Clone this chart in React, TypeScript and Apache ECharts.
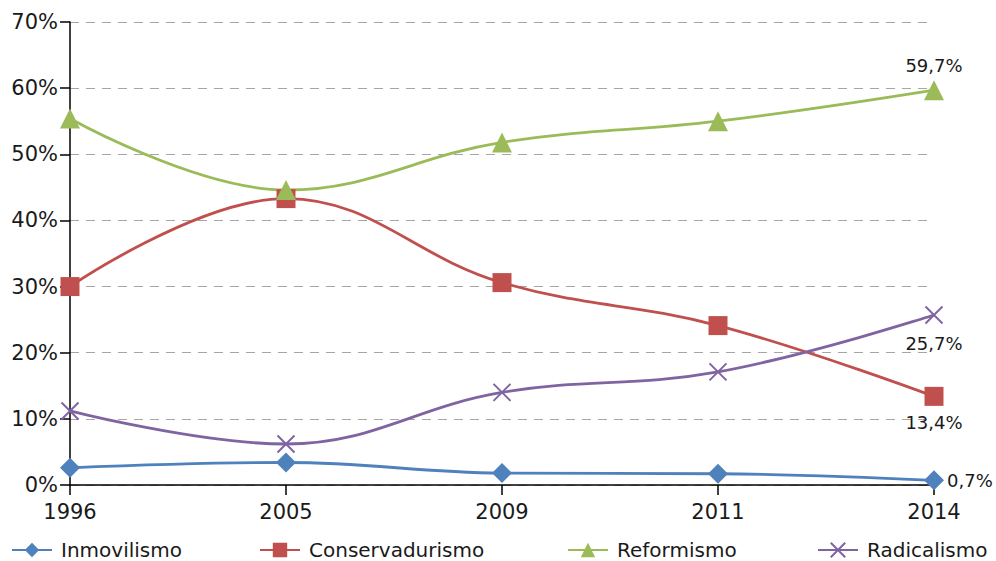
import React, { useEffect, useRef } from "react";
import * as echarts from "echarts";

const years = ["1996", "2005", "2009", "2011", "2014"];
const inmovilismo = [2.6, 3.4, 1.8, 1.7, 0.7];
const conservadurismo = [30.0, 43.3, 30.6, 24.1, 13.4];
const reformismo = [55.4, 44.6, 51.8, 55.0, 59.7];
const radicalismo = [11.2, 6.2, 14.0, 17.1, 25.7];
const yTicks = [0, 10, 20, 30, 40, 50, 60, 70];

const FONT = "DejaVu Sans";
const TXT = "#1a1a1a";

const fmt = (v: number) => v.toFixed(1).replace(".", ",") + "%";

function lastLabel(position: string, distance: number) {
  return {
    show: true,
    position,
    distance,
    fontFamily: FONT,
    fontSize: 18,
    color: TXT,
    formatter: (p: any) => (p.dataIndex === years.length - 1 ? fmt(p.value) : ""),
  };
}

export default function App() {
  const ref = useRef<HTMLDivElement>(null);
  useEffect(() => {
    const chart = echarts.init(ref.current!, null, { renderer: "svg" });
    const mk = (name: string, data: number[], color: string, symbol: string, size: number, label: any, extra: any = {}) => ({
      name,
      type: "line",
      data,
      smooth: 0.4,
      symbol,
      symbolSize: size,
      showAllSymbol: true,
      lineStyle: { color, width: 2.8 },
      itemStyle: { color, ...extra },
      label,
      z: 3,
    });
    const legendBase = {
      top: 538,
      padding: 0,
      itemWidth: 40,
      itemHeight: 18,
      itemGap: 0,
      textStyle: { fontFamily: FONT, fontSize: 20, lineHeight: 24, color: TXT, padding: [0, 0, 0, 4] },
    };
    chart.setOption({
      animation: false,
      grid: { left: 70, right: 62, top: 22, bottom: 76 },
      legend: [
        { ...legendBase, left: 11, data: ["Inmovilismo"] },
        { ...legendBase, left: 259, data: ["Conservadurismo"] },
        { ...legendBase, left: 567, data: ["Reformismo"] },
        { ...legendBase, left: 817, data: ["Radicalismo"] },
      ],
      xAxis: {
        type: "category",
        data: years,
        boundaryGap: false,
        axisLine: { show: true, lineStyle: { color: "#000", width: 1.5 } },
        axisTick: { show: true, alignWithLabel: true, length: 10, lineStyle: { color: "#000", width: 1.5 } },
        axisLabel: { fontFamily: FONT, fontSize: 21, color: TXT, margin: 16 },
        splitLine: { show: false },
      },
      yAxis: {
        type: "value",
        min: 0,
        max: 70,
        interval: 10,
        axisLine: { show: true, lineStyle: { color: "#000", width: 1.5 } },
        axisTick: { show: true, length: 10, lineStyle: { color: "#000", width: 1.5 } },
        axisLabel: {
          fontFamily: FONT,
          fontSize: 21,
          color: TXT,
          margin: 12,
          formatter: (v: number) => (yTicks.includes(v) ? v + "%" : ""),
        },
        splitLine: { show: true, lineStyle: { color: "#a6a6a6", type: [9, 7], width: 1.2 } },
      },
      series: [
        mk("Inmovilismo", inmovilismo, "#4F81BD", "diamond", 20, lastLabel("right", 3)),
        mk("Conservadurismo", conservadurismo, "#C0504D", "rect", 19, lastLabel("bottom", 8)),
        mk("Reformismo", reformismo, "#9BBB59", "triangle", 20, lastLabel("top", 6)),
        mk(
          "Radicalismo",
          radicalismo,
          "#8064A2",
          "path://M0,0L10,10M10,0L0,10",
          17,
          lastLabel("bottom", 8),
          { borderColor: "#8064A2", borderWidth: 2, color: "none" }
        ),
      ],
    });
    return () => chart.dispose();
  }, []);
  return (
    <div
      ref={ref}
      style={{ position: "fixed", left: 0, top: 0, width: 996, height: 561, background: "#fff" }}
    />
  );
}
